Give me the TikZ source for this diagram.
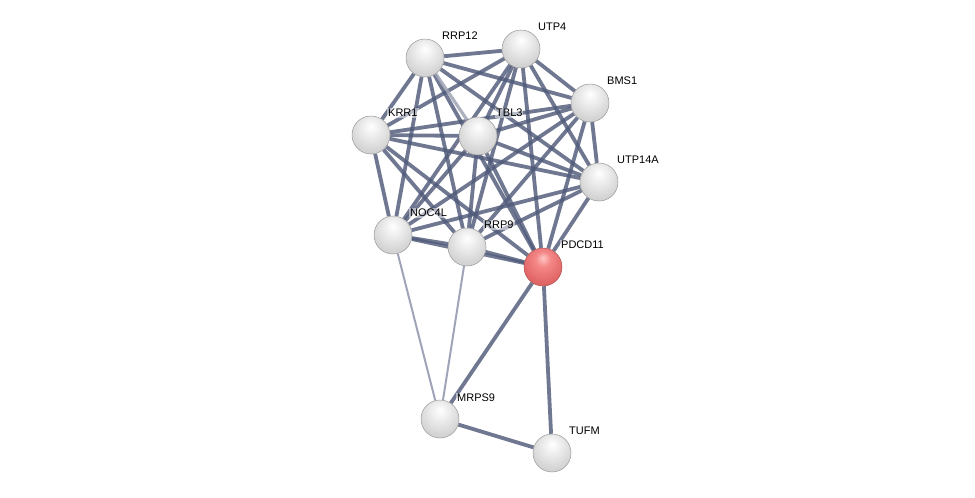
\documentclass[tikz,border=0pt]{standalone}
\usepackage{fontspec}
\setmainfont{Liberation Sans}
\usetikzlibrary{backgrounds}
\definecolor{edgec}{RGB}{80,90,122}
\definecolor{edgelt}{RGB}{160,164,184}
\pgfdeclareradialshading{sballw}{\pgfpoint{0bp}{12bp}}{%
  color(0bp)=(white); color(10bp)=(white!94!black); color(28bp)=(white!83!black);
  color(46bp)=(white!79!black); color(56bp)=(white!66!black); color(70bp)=(white!50!black)}
\pgfdeclareradialshading{sballr}{\pgfpoint{0bp}{12bp}}{%
  color(0bp)=(red!22!white); color(10bp)=(red!45!white!96!black); color(28bp)=(red!55!white!88!black);
  color(46bp)=(red!55!white!82!black); color(56bp)=(red!55!black!80!white); color(70bp)=(red!45!black)}
\begin{document}
\begin{tikzpicture}[x=1pt,y=-1pt,
  prot/.style={circle,minimum size=38pt,inner sep=0pt,shading=sballw,draw=gray!80,line width=0.5pt},
  protred/.style={prot,shading=sballr,draw=red!35!gray},
  lab/.style={anchor=west,font=\fontsize{11}{12}\selectfont,fill=white,fill opacity=0.5,text opacity=1,inner sep=1pt},
  ed/.style={draw=edgec,line width=3.8pt,opacity=0.82},
  edl/.style={draw=edgelt,line width=2pt},
  edm/.style={draw=edgec!55!white,line width=3.2pt,opacity=0.85}]
\useasboundingbox (0,0) rectangle (975,498);
\node[prot] (RRP12) at (425,58) {};
\node[prot] (UTP4) at (521,49) {};
\node[prot] (BMS1) at (590,103) {};
\node[prot] (KRR1) at (371,135) {};
\node[prot] (TBL3) at (478,136) {};
\node[prot] (UTP14A) at (599,182) {};
\node[prot] (NOC4L) at (393,235) {};
\node[prot] (RRP9) at (467,247) {};
\node[protred] (PDCD11) at (543,267) {};
\node[prot] (MRPS9) at (440,419) {};
\node[prot] (TUFM) at (552,453) {};
\begin{pgfonlayer}{background}
\fill[white] (0,0) rectangle (975,498);
\foreach \a/\b in {RRP12/UTP4,RRP12/BMS1,RRP12/KRR1,RRP12/UTP14A,RRP12/NOC4L,RRP12/RRP9,RRP12/PDCD11,
  UTP4/BMS1,UTP4/KRR1,UTP4/TBL3,UTP4/UTP14A,UTP4/NOC4L,UTP4/RRP9,UTP4/PDCD11,
  BMS1/KRR1,BMS1/TBL3,BMS1/UTP14A,BMS1/NOC4L,BMS1/RRP9,BMS1/PDCD11,
  KRR1/TBL3,KRR1/UTP14A,KRR1/NOC4L,KRR1/RRP9,KRR1/PDCD11,
  TBL3/UTP14A,TBL3/NOC4L,TBL3/RRP9,TBL3/PDCD11,
  UTP14A/NOC4L,UTP14A/RRP9,UTP14A/PDCD11,
  NOC4L/RRP9,NOC4L/PDCD11,RRP9/PDCD11,
  PDCD11/MRPS9,PDCD11/TUFM,MRPS9/TUFM}
  \draw[ed] (\a) -- (\b);
\draw[edm] (RRP12) -- (TBL3);
\draw[edl] (NOC4L) -- (MRPS9);
\draw[edl] (RRP9) -- (MRPS9);
\end{pgfonlayer}
\node[lab] (lRRP12) at (441,36) {RRP12};
\node[lab] (lUTP4) at (537,27) {UTP4};
\node[lab] (lBMS1) at (606,81) {BMS1};
\node[lab] (lKRR1) at (387,113) {KRR1};
\node[lab] (lTBL3) at (495,113) {TBL3};
\node[lab] (lUTP14A) at (616,160) {UTP14A};
\node[lab] (lNOC4L) at (409,213) {NOC4L};
\node[lab] (lRRP9) at (483,225) {RRP9};
\node[lab] (lPDCD11) at (560,245) {PDCD11};
\node[lab] (lMRPS9) at (456,398) {MRPS9};
\node[lab] (lTUFM) at (568,431) {TUFM};
\end{tikzpicture}
\end{document}
